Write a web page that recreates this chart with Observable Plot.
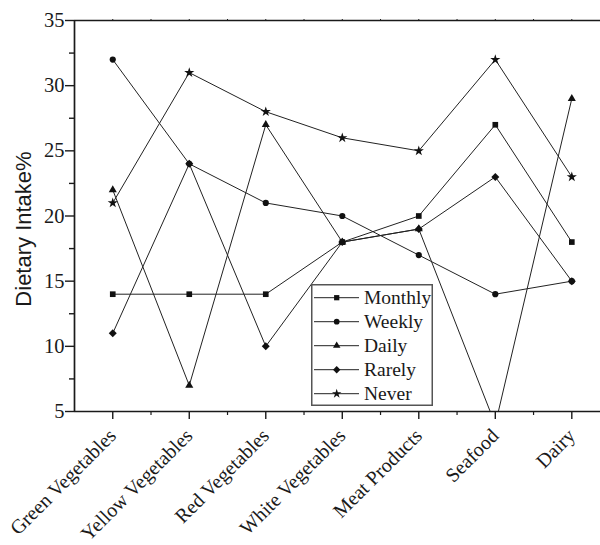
<!DOCTYPE html>
<html><head><meta charset="utf-8">
<script src="https://cdn.jsdelivr.net/npm/d3@7"></script>
<script src="https://cdn.jsdelivr.net/npm/@observablehq/plot@0.6"></script>
<style>
html,body{margin:0;padding:0;background:#fff;overflow:hidden}
#wrap{position:relative;width:600px;height:545px}
#legend{position:absolute;left:311px;top:284px}
</style></head><body><div id="wrap"></div>
<script>
const categories = ["Green Vegetables","Yellow Vegetables","Red Vegetables","White Vegetables","Meat Products","Seafood","Dairy"];
const seriesNames = ["Monthly","Weekly","Daily","Rarely","Never"];
const monthly = [14,14,14,18,20,27,18];
const weekly  = [32,24,21,20,17,14,15];
const daily   = [22,7,27,18,19,4,29];
const rarely  = [11,24,10,18,19,23,15];
const never   = [21,31,28,26,25,32,23];
const seriesSymbols = ["square","circle","triangle","diamond2","star"];
const seriesRadius = [3.2,3.1,3.0,3.6,3.2];
const yTicks = [5,10,15,20,25,30,35];
const yMinorTicks = [7.5,12.5,17.5,22.5,27.5,32.5];
const yLabel = "Dietary Intake%";

const values = [monthly, weekly, daily, rarely, never];
const rows = seriesNames.flatMap((s, si) => values[si].map((v, i) => ({series: s, xi: i + 1, value: v, r: seriesRadius[si]})));
const catIdx = categories.map((c, i) => i + 1);
const minorX = categories.slice(0, -1).map((c, i) => i + 1.5).concat([categories.length + 0.5]);
const topTicks = catIdx.concat(minorX);

const serif = "'Liberation Serif', 'Times New Roman', serif";
const sans = "'Liberation Sans', Arial, sans-serif";

const chart = Plot.plot({
  width: 600, height: 545,
  marginLeft: 74, marginRight: 0, marginTop: 20, marginBottom: 134,
  style: {fontFamily: serif, fontSize: "19px", color: "#1a1a1a", background: "#fff", overflow: "visible"},
  x: {type: "linear", domain: [0.5, 7.375]},
  y: {domain: [5, 35]},
  r: {type: "identity"},
  symbol: {domain: seriesNames, range: seriesSymbols},
  marks: [
    Plot.axisY({ticks: yTicks, tickSize: 9, text: null, label: null, strokeWidth: 1.4}),
    Plot.axisY({ticks: yMinorTicks, tickSize: 5, text: null, label: null, strokeWidth: 1.4}),
    Plot.text(yTicks, {y: d => d, text: d => String(d), frameAnchor: "left", textAnchor: "end", lineAnchor: "middle", dx: -10, fontFamily: serif, fontSize: 20.5, fill: "#1a1a1a"}),
    Plot.axisX({ticks: catIdx, tickSize: 8, text: null, label: null, strokeWidth: 1.4}),
    Plot.axisX({ticks: minorX, tickSize: 4, text: null, label: null, strokeWidth: 1.2}),
    Plot.axisX({anchor: "top", ticks: topTicks, tickSize: 2, text: null, label: null, strokeWidth: 1}),
    Plot.text(categories, {x: catIdx, text: categories, frameAnchor: "bottom", rotate: -45, textAnchor: "end", lineAnchor: "middle", dx: 0, dy: 21, fontFamily: serif, fontSize: 20, fill: "#1a1a1a"}),
    Plot.text([yLabel], {frameAnchor: "left", rotate: -90, textAnchor: "middle", lineAnchor: "middle", dx: -51, dy: 13, fontFamily: sans, fontSize: 22, fill: "#1a1a1a"}),
    Plot.ruleY([5, 35], {stroke: "#1a1a1a", strokeWidth: 1.7}),
    Plot.ruleX([0.5], {stroke: "#1a1a1a", strokeWidth: 1.7}),
    Plot.line(rows, {x: "xi", y: "value", z: "series", stroke: "#222", strokeWidth: 1, clip: true}),
    Plot.dot(rows, {x: "xi", y: "value", symbol: "series", r: "r", fill: "#111", stroke: "none", clip: true})
  ]
});
const wrap = document.getElementById("wrap");
wrap.appendChild(chart);

// Legend overlay
const symMap = {square: d3.symbolSquare, circle: d3.symbolCircle, triangle: d3.symbolTriangle, diamond2: d3.symbolDiamond2, star: d3.symbolStar};
const lg = d3.create("svg").attr("id", "legend").attr("width", 122).attr("height", 122);
lg.append("rect").attr("x", 0.75).attr("y", 0.75).attr("width", 120.5).attr("height", 120.5)
  .attr("fill", "#fff").attr("stroke", "#555").attr("stroke-width", 1.5);
seriesNames.forEach((s, i) => {
  const y = 13.7 + i * 24;
  const g = lg.append("g").attr("transform", `translate(0,${y})`);
  g.append("line").attr("x1", 3).attr("x2", 48).attr("stroke", "#222").attr("stroke-width", 1);
  g.append("path").attr("transform", "translate(25.7,0)")
    .attr("d", d3.symbol(symMap[seriesSymbols[i]], Math.PI * seriesRadius[i] * seriesRadius[i] * 0.85)())
    .attr("fill", "#111");
  g.append("text").attr("x", 53).attr("dy", "0.33em").attr("font-family", serif).attr("font-size", 19.5)
    .attr("fill", "#1a1a1a").text(s);
});
wrap.appendChild(lg.node());
</script></body></html>
